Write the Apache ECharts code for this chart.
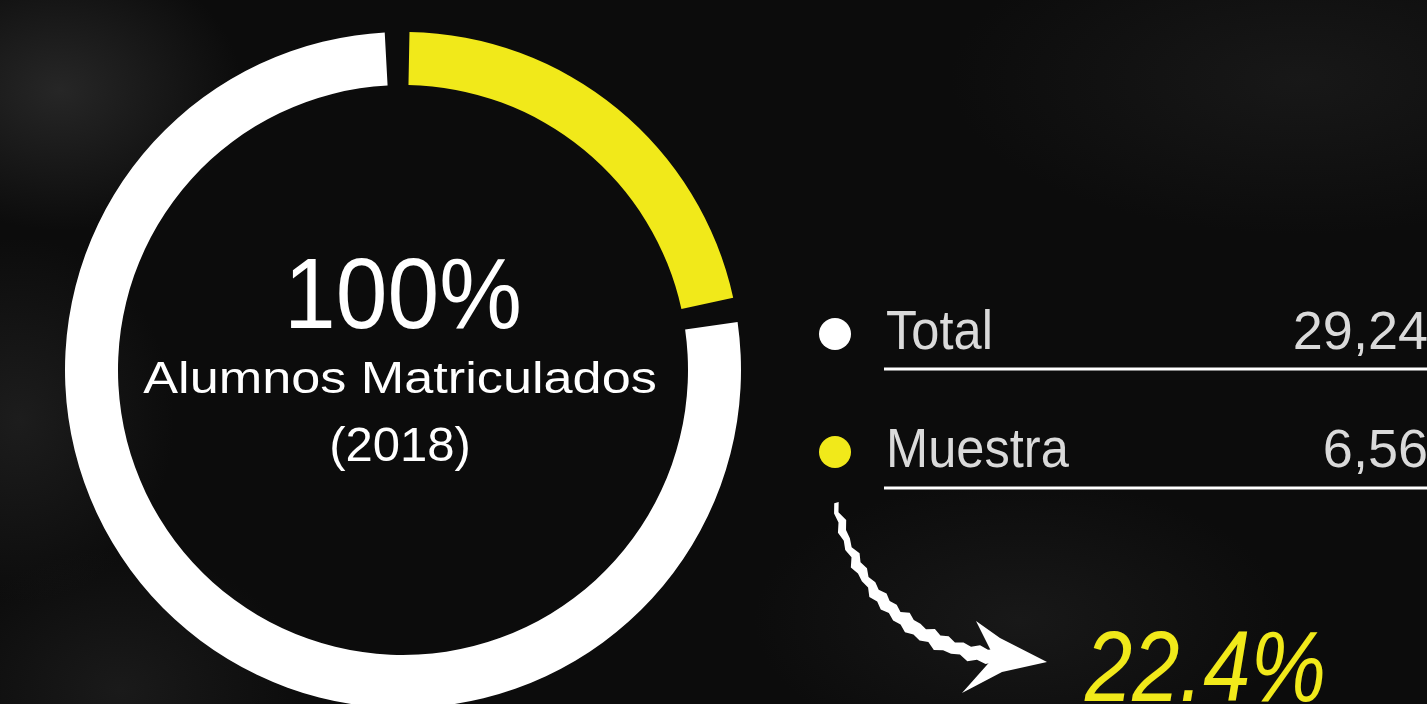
<!DOCTYPE html>
<html>
<head>
<meta charset="utf-8">
<title>Alumnos Matriculados 2018</title>
<script src="https://cdn.jsdelivr.net/npm/echarts@6/dist/echarts.min.js"></script>
<style>
  html, body { margin: 0; padding: 0; background: #0b0b0b; overflow: hidden; }
  #chart {
    width: 1427px; height: 704px;
    background:
      radial-gradient(ellipse 260px 200px at 60px 90px, rgba(60,60,60,0.55), rgba(0,0,0,0) 70%),
      radial-gradient(ellipse 220px 260px at 20px 420px, rgba(45,45,45,0.5), rgba(0,0,0,0) 70%),
      radial-gradient(ellipse 260px 200px at 120px 690px, rgba(40,40,40,0.5), rgba(0,0,0,0) 70%),
      radial-gradient(ellipse 500px 220px at 1300px 80px, rgba(38,38,38,0.45), rgba(0,0,0,0) 70%),
      radial-gradient(ellipse 380px 200px at 1020px 620px, rgba(36,36,36,0.5), rgba(0,0,0,0) 70%),
      #0c0c0c;
  }
</style>
</head>
<body>
<div id="chart"></div>
<script>
  // datos
  var legendNames = ['Total', 'Muestra'];
  var legendValues = [29245, 6560];
  var legendColors = ['#ffffff', '#f1e91a'];
  var centerLines = ['100%', 'Alumnos Matriculados', '(2018)'];

  var total = legendValues[0];
  var muestra = legendValues[1];
  var pct = (muestra / total * 100).toFixed(1) + '%';

  var fontBase = '"Liberation Sans", Arial, sans-serif';
  var grey = '#dadada';

  var myChart = echarts.init(document.getElementById('chart'), null, { renderer: 'canvas' });

  function fmt(v) { return v.toLocaleString('en-US'); }

  // flecha con borde "de tiza": curva con dientes en los bordes
  function brushShaft() {
    var p0 = [835, 503], c = [868, 640], p1 = [996, 657];
    var spikes = [0, 2.5, 0.5, 4, 1, 3, 0, 5, 1.5, 2, 0, 4.5, 1, 3.5];
    var left = [], right = [];
    var n = 28;
    for (var i = 0; i <= n; i++) {
      var t = i / n, u = 1 - t;
      var x = u * u * p0[0] + 2 * u * t * c[0] + t * t * p1[0];
      var y = u * u * p0[1] + 2 * u * t * c[1] + t * t * p1[1];
      var dx = 2 * u * (c[0] - p0[0]) + 2 * t * (p1[0] - c[0]);
      var dy = 2 * u * (c[1] - p0[1]) + 2 * t * (p1[1] - c[1]);
      var len = Math.sqrt(dx * dx + dy * dy);
      var nx = -dy / len, ny = dx / len;
      var w = 0.8 + 4.2 * Math.min(1, t * 1.6);
      var s1 = spikes[i % spikes.length], s2 = spikes[(i + 5) % spikes.length];
      right.push([x + nx * (w + s1), y + ny * (w + s1)]);
      left.push([x - nx * (w + s2), y - ny * (w + s2)]);
    }
    return right.concat(left.reverse());
  }

  var graphics = [
    // texto central
    { type: 'text', x: 403, y: 300, scaleX: 0.93, silent: true,
      style: { text: centerLines[0], fill: '#fff', font: '100px ' + fontBase, textAlign: 'center', textVerticalAlign: 'middle' } },
    { type: 'text', x: 400, y: 381, scaleX: 1.16, silent: true,
      style: { text: centerLines[1], fill: '#fff', font: '45px ' + fontBase, textAlign: 'center', textVerticalAlign: 'middle' } },
    { type: 'text', x: 400, y: 447, silent: true,
      style: { text: centerLines[2], fill: '#fff', font: '49px ' + fontBase, textAlign: 'center', textVerticalAlign: 'middle' } },
    // flecha
    { type: 'polygon', silent: true, shape: { points: brushShaft() }, style: { fill: '#fff' } },
    { type: 'polygon', silent: true,
      shape: { points: [[976,621],[1000,638],[1047,662],[1002,672],[962,693],[978,675],[994,657]] },
      style: { fill: '#fff' } },
    // porcentaje
    { type: 'text', x: 1085, y: 673, scaleX: 0.85, silent: true,
      style: { text: pct, fill: legendColors[1], font: 'italic 100px ' + fontBase, textAlign: 'left', textVerticalAlign: 'middle' } }
  ];

  var rowY = [334, 452];
  var lineY = [369, 488];
  legendNames.forEach(function (n, i) {
    graphics.push(
      { type: 'circle', silent: true, shape: { cx: 835, cy: rowY[i], r: 16 }, style: { fill: legendColors[i] } },
      { type: 'text', x: 886, y: rowY[i], scaleX: 0.92, silent: true,
        style: { text: n, fill: grey, font: '55px ' + fontBase, textAlign: 'left', textVerticalAlign: 'middle' } },
      { type: 'text', x: 1458, y: rowY[i], silent: true,
        style: { text: fmt(legendValues[i]), fill: grey, font: '54px ' + fontBase, textAlign: 'right', textVerticalAlign: 'middle' } },
      { type: 'line', silent: true, shape: { x1: 884, y1: lineY[i], x2: 1427, y2: lineY[i] },
        style: { stroke: '#fff', lineWidth: 3 } }
    );
  });

  myChart.setOption({
    backgroundColor: 'transparent',
    animation: false,
    series: [{
      type: 'pie',
      center: [403, 370],
      radius: [285, 338],
      startAngle: 91,
      clockwise: true,
      padAngle: 4.2,
      silent: true,
      label: { show: false },
      labelLine: { show: false },
      data: [
        { name: legendNames[1], value: muestra, itemStyle: { color: legendColors[1] } },
        { name: 'Resto', value: total - muestra, itemStyle: { color: legendColors[0] } }
      ]
    }],
    graphic: graphics
  });
</script>
</body>
</html>
